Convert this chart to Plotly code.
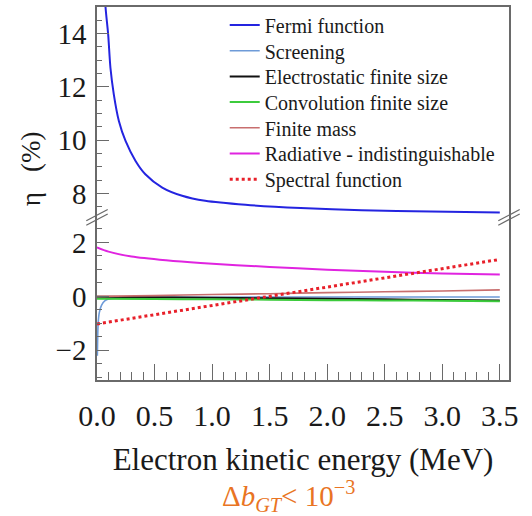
import plotly.graph_objects as go
from plotly.subplots import make_subplots

# ---------------- data ----------------
E_fermi = [0.065, 0.074, 0.097, 0.117, 0.146, 0.19, 0.248, 0.335, 0.42, 0.567, 0.74, 0.94, 1.29, 1.77, 2.3, 2.9, 3.5]
eta_fermi = [16.0, 15.0, 13.97, 12.71, 11.72, 10.72, 9.97, 9.22, 8.72, 8.22, 7.91, 7.72, 7.57, 7.45, 7.37, 7.32, 7.28]

E_scr = [0.003, 0.006, 0.01, 0.02, 0.04, 0.07, 0.1, 0.2, 0.5, 1.0, 2.0, 3.5]
eta_scr = [-2.2, -1.5, -1.0, -0.6, -0.32, -0.16, -0.1, -0.06, -0.04, -0.03, -0.02, -0.02]

E_lin = [0.0, 0.5, 1.0, 1.5, 2.0, 2.5, 3.0, 3.5]
eta_elec = [-0.01, -0.03, -0.05, -0.07, -0.09, -0.11, -0.13, -0.15]
eta_conv = [-0.09, -0.10, -0.11, -0.12, -0.14, -0.15, -0.16, -0.18]
eta_mass = [0.0, 0.03, 0.07, 0.10, 0.14, 0.17, 0.20, 0.24]

E_rad = [0.0, 0.1, 0.3, 0.6, 0.9, 1.5, 2.0, 2.5, 3.0, 3.5]
eta_rad = [1.82, 1.66, 1.48, 1.34, 1.24, 1.09, 0.99, 0.91, 0.85, 0.81]

E_spec = [0.0, 3.5]
eta_spec = [-1.02, 1.37]

names = ["Fermi function", "Screening", "Electrostatic finite size",
         "Convolution finite size", "Finite mass",
         "Radiative - indistinguishable", "Spectral function"]
colors = ["#2424E0", "#6E9BD8", "#111111", "#3CCB3C", "#C86E6E", "#E024E0", "#E8202A"]

x_ticks = [0.0, 0.5, 1.0, 1.5, 2.0, 2.5, 3.0, 3.5]
x_ticklabels = ["0.0", "0.5", "1.0", "1.5", "2.0", "2.5", "3.0", "3.5"]

# ---------------- figure ----------------
W, H = 532, 516
ML, MR, MT, MB = 97, 23, 6, 136
plot_h = H - MT - MB
split = 0.436
fig = make_subplots(rows=2, cols=1, shared_xaxes=True, vertical_spacing=0,
                    row_heights=[1 - split, split])

series = [
    (E_fermi, eta_fermi, 1, "solid", 2),
    (E_scr, eta_scr, 2, "solid", 1.6),
    (E_lin, eta_elec, 2, "solid", 2),
    (E_lin, eta_conv, 2, "solid", 2),
    (E_lin, eta_mass, 2, "solid", 1.6),
    (E_rad, eta_rad, 2, "solid", 2),
    (E_spec, eta_spec, 2, "dot", 3),
]
legend_ids = ["legend"] + ["legend%d" % (k + 2) for k in range(6)]
for i in range(7):
    xs, ys, row, dash, w = series[i]
    fig.add_trace(go.Scatter(x=xs, y=ys, mode="lines", name=names[i],
                             line=dict(color=colors[i], width=w, dash=dash,
                                       shape="spline", smoothing=0.8),
                             legend=legend_ids[i]),
                  row=row, col=1)

serif = "Liberation Serif"
txtcol = "#1a1a1a"
axcol = "#6a6a6a"

fig.update_xaxes(range=[0, 3.58], showline=True, linecolor=axcol, linewidth=1.5,
                 showgrid=False, zeroline=False)
fig.update_xaxes(row=1, col=1, side="top", ticks="", showticklabels=False)
fig.update_xaxes(row=2, col=1, ticks="inside", ticklen=16, tickwidth=1.3, tickcolor=axcol,
                 tickvals=x_ticks, ticktext=x_ticklabels,
                 minor=dict(ticks="inside", ticklen=8, dtick=0.1, tick0=0,
                            tickcolor=axcol, tickwidth=1.2),
                 tickfont=dict(family=serif, size=30, color=txtcol),
                 ticklabelstandoff=8,
                 title=dict(text="Electron kinetic energy (MeV)",
                            font=dict(family=serif, size=31, color=txtcol),
                            standoff=18))

yaxis_common = dict(showline=True, linecolor=axcol, linewidth=1.5, mirror=True,
                    showgrid=False, zeroline=False, ticks="inside", ticklen=12,
                    tickwidth=1.3, tickcolor=axcol, dtick=2, tick0=0,
                    tickfont=dict(family=serif, size=29, color=txtcol),
                    ticklabelstandoff=3,
                    minor=dict(ticks="inside", ticklen=5, dtick=0.5, tick0=0,
                               tickcolor=axcol, tickwidth=1.2))
fig.update_yaxes(row=1, col=1, range=[7.1, 15], **yaxis_common)
fig.update_yaxes(row=2, col=1, range=[-3.1, 2.93], **yaxis_common)

# axis-break marks
for xp in (0.0, 1.0):
    for dy in (-0.006, 0.006):
        fig.add_shape(type="line", xref="paper", yref="paper",
                      x0=xp - 0.026, x1=xp + 0.026,
                      y0=split + dy - 0.015, y1=split + dy + 0.015,
                      line=dict(color=axcol, width=1.3))

fig.add_annotation(text="η   (%)", xref="paper", yref="paper",
                   x=-0.16, y=0.565, xanchor="center", yanchor="middle",
                   textangle=-90, showarrow=False,
                   font=dict(family=serif, size=27, color=txtcol))
fig.add_annotation(text="Δ<i>b</i><sub><i>GT</i></sub>< 10<sup>−3</sup>",
                   xref="paper", yref="paper", x=0.465, y=-0.312,
                   xanchor="center", yanchor="middle", showarrow=False,
                   font=dict(family=serif, size=29, color="#E97423"))

# one legend per entry so the row pitch matches the original
row0, pitch = 19, 25.7
legends = {}
for i, lid in enumerate(legend_ids):
    legends[lid] = dict(x=0.31, y=1 - (row0 + pitch * i) / plot_h,
                        xanchor="left", yanchor="middle",
                        bgcolor="rgba(0,0,0,0)", borderwidth=0,
                        font=dict(family=serif, size=20, color=txtcol))

fig.update_layout(
    width=W, height=H,
    margin=dict(l=ML, r=MR, t=MT, b=MB),
    paper_bgcolor="white", plot_bgcolor="white",
    showlegend=True,
    **legends,
)

fig.write_html("out.html", config={"displayModeBar": False},
               post_script="document.body.style.margin='0px';")
